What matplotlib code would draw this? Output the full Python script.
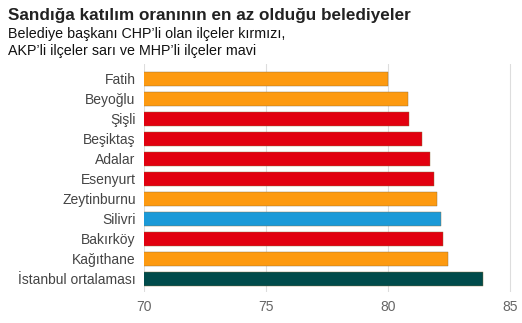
import matplotlib
matplotlib.use('Agg')
import matplotlib.pyplot as plt

plt.rcParams['font.family'] = ['Liberation Sans', 'DejaVu Sans']

# ilceler ve sandiga katilim oranlari (%)
districts = ['Fatih', 'Beyoğlu', 'Şişli', 'Beşiktaş', 'Adalar', 'Esenyurt',
             'Zeytinburnu', 'Silivri', 'Bakırköy', 'Kağıthane', 'İstanbul ortalaması']
turnout = [80.0, 80.8, 80.87, 81.4, 81.7, 81.9, 82.0, 82.15, 82.25, 82.45, 83.9]
party = ['AKP', 'AKP', 'CHP', 'CHP', 'CHP', 'CHP', 'AKP', 'MHP', 'CHP', 'AKP', 'ORT']
xticks = [70, 75, 80, 85]

renk = {'CHP': '#e2000f', 'AKP': '#fd9a10', 'MHP': '#1b9ad8', 'ORT': '#004b4b'}
cols = [renk[p] for p in party]

fig = plt.figure(figsize=(5.22, 3.23), dpi=100)
ax = fig.add_axes([0.276, 0.096, 0.72, 0.706])

ypos = list(range(len(districts)))
ax.barh(ypos, turnout, left=0, height=0.7, color=cols, edgecolor='#8a6a3a', linewidth=0.3, zorder=3)

ax.set_xlim(70, 85.4)
ax.set_ylim(10.65, -0.75)
ax.set_xticks(xticks)
ax.set_xticklabels([str(t) for t in xticks], color='#666666', fontsize=10)
ax.set_yticks(ypos)
ax.set_yticklabels(districts, fontsize=10, color='#444444')
ax.tick_params(length=0, pad=6)
ax.tick_params(axis='x', pad=6)
ax.grid(axis='x', color='#dddddd', linewidth=0.8, zorder=0)
for s in ax.spines.values():
    s.set_visible(False)

fig.text(0.016, 0.953, 'Sandığa katılım oranının en az olduğu belediyeler',
         fontsize=12.3, fontweight='bold', color='#222222', va='center')
fig.text(0.016, 0.895, 'Belediye başkanı CHP’li olan ilçeler kırmızı,',
         fontsize=10.3, color='#111111', va='center')
fig.text(0.016, 0.843, 'AKP’li ilçeler sarı ve MHP’li ilçeler mavi',
         fontsize=10.3, color='#111111', va='center')

fig.savefig('out.png', dpi=100)
